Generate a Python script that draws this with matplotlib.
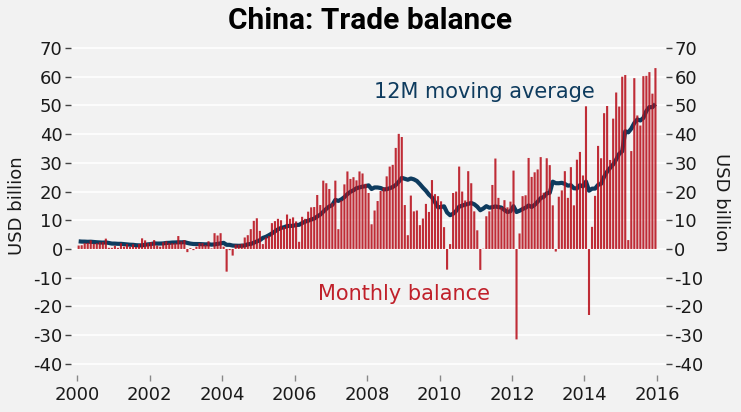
import numpy as np
import pandas as pd
import matplotlib
matplotlib.use("Agg")
import matplotlib.pyplot as plt

# Monthly trade balance, USD bn, Jan 2000 .. Dec 2015
pre_1999 = [2.4, 2.2, 2.8, 2.6, 3.1, 2.9, 3.0, 3.3, 2.6, 2.8, 3.0]  # Feb-Dec 1999, only feeds the 12M average
bal_2000 = [1.2, 1.3, 2.0, 2.1, 3.0, 1.8, 2.0, 2.3, 2.4, 3.6, 0.4, 0.4]
bal_2001 = [1.1, 0.4, 2.0, 0.8, 1.7, 0.7, 1.6, 0.7, 1.7, 3.7, 3.0, 2.0]
bal_2002 = [2.4, 3.1, 1.2, 0.8, 2.3, 2.7, 2.0, 2.0, 2.0, 4.5, 2.6, 3.1]
bal_2003 = [-1.1, 0.3, -0.4, 0.8, 2.0, 2.0, 1.4, 2.7, 0.2, 5.5, 4.7, 5.5]
bal_2004 = [0.8, -7.9, -0.4, -2.3, 1.5, 1.5, 1.8, 4.0, 4.8, 6.9, 9.8, 10.7]
bal_2005 = [6.3, 1.7, 4.0, 4.5, 9.0, 9.7, 10.5, 10.0, 7.6, 12.0, 10.5, 11.0]
bal_2006 = [9.6, 2.5, 11.2, 10.5, 13.0, 14.5, 14.6, 18.8, 15.3, 23.8, 22.9, 20.9]
bal_2007 = [15.9, 23.8, 6.9, 16.9, 22.5, 27.0, 24.4, 25.0, 23.9, 27.0, 26.3, 22.7]
bal_2008 = [19.5, 8.6, 13.4, 16.7, 20.2, 21.4, 25.3, 28.7, 29.3, 35.2, 40.1, 39.0]
bal_2009 = [15.3, 4.8, 18.6, 13.1, 13.4, 8.3, 10.6, 15.7, 12.9, 24.0, 19.1, 18.4]
bal_2010 = [16.6, 7.6, -7.2, 1.7, 19.5, 20.0, 28.7, 20.0, 16.9, 27.1, 22.9, 13.1]
bal_2011 = [6.5, -7.3, 0.1, 11.4, 13.1, 22.3, 31.5, 17.8, 14.5, 17.0, 14.5, 16.5]
bal_2012 = [27.3, -31.5, 5.4, 18.4, 18.7, 31.7, 25.1, 26.7, 27.7, 32.0, 19.6, 31.6]
bal_2013 = [29.2, 15.2, -0.9, 18.2, 20.4, 27.1, 17.8, 28.5, 15.2, 31.1, 33.8, 25.6]
bal_2014 = [49.7, -23.0, 7.7, 18.5, 35.9, 31.6, 47.3, 49.8, 31.0, 45.4, 54.5, 49.6]
bal_2015 = [60.0, 60.6, 3.1, 34.1, 59.5, 46.5, 43.0, 60.2, 60.3, 61.6, 54.1, 63.0]

yticks = [-40, -30, -20, -10, 0, 10, 20, 30, 40, 50, 60, 70]
xticks = [2000, 2002, 2004, 2006, 2008, 2010, 2012, 2014, 2016]

monthly = (bal_2000 + bal_2001 + bal_2002 + bal_2003 + bal_2004 + bal_2005
           + bal_2006 + bal_2007 + bal_2008 + bal_2009 + bal_2010 + bal_2011
           + bal_2012 + bal_2013 + bal_2014 + bal_2015)
n = len(monthly)
t = 2000 + (np.arange(n) + 0.5) / 12
ma = pd.Series(pre_1999 + monthly).rolling(12).mean().to_numpy()[len(pre_1999):]

BG = "#f2f2f2"
RED = "#b8101c"
NAVY = "#0e3b5e"
INK = "#1a1a1a"

plt.rcParams.update({"font.family": "DejaVu Sans", "font.size": 13,
                     "axes.unicode_minus": False})
fig = plt.figure(figsize=(7.41, 4.12), dpi=100, facecolor=BG)
ax = fig.add_axes([0.0958, 0.0898, 0.803, 0.801], facecolor=BG)

ax.plot(t, ma, color=NAVY, linewidth=3.0, zorder=2, solid_capstyle="butt")
bars = ax.bar(t, monthly, width=0.7 / 12, color=RED, alpha=0.88, linewidth=0,
              zorder=3)
for b in bars:
    b.set_snap(False)

ax.set_xlim(1999.83, 2016.25)
ax.set_ylim(-43.9, 71.05)
ax.set_yticks(yticks)
ax.set_xticks(xticks)
ax.set_xticklabels([str(x) for x in xticks])
ax.grid(axis="y", color="white", linewidth=1.2, zorder=0)
ax.set_axisbelow(True)
for s in ax.spines.values():
    s.set_visible(False)
ax.tick_params(axis="y", which="both", left=True, right=True, labelleft=True,
               labelright=True, length=4, width=1, color="#444444",
               labelsize=13, pad=2, labelcolor=INK)
ax.tick_params(axis="x", length=4, width=1, color="#888888", labelsize=13,
               pad=4, labelcolor=INK)

fig.text(0.5, 0.95, "China: Trade balance", ha="center", va="center",
         fontsize=21.5, fontweight="bold", family="Roboto", color="#000000")
fig.text(0.023, 0.50, "USD billion", rotation=90, ha="center", va="center",
         fontsize=13, color=INK)
fig.text(0.973, 0.51, "USD billion", rotation=270, ha="center", va="center",
         fontsize=13, color=INK)

ax.text(2011.23, 54.7, "12M moving average", color=NAVY, fontsize=15,
        ha="center", va="center")
ax.text(2009.02, -15.7, "Monthly balance", color="#c0202a", fontsize=15,
        ha="center", va="center")

fig.savefig("out.png", dpi=100, facecolor=BG)
